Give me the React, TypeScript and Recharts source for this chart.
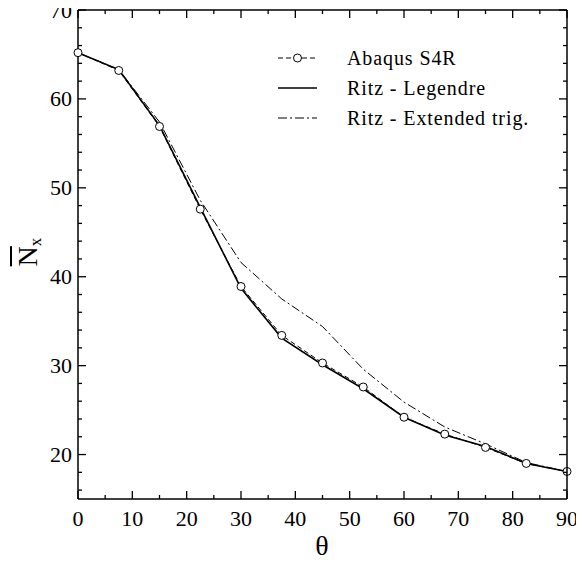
import React from "react";
import { LineChart, Line, XAxis, YAxis } from "recharts";

const theta = [0, 7.5, 15, 22.5, 30, 37.5, 45, 52.5, 60, 67.5, 75, 82.5, 90];
const abaqusS4R = [65.2, 63.2, 56.9, 47.6, 38.9, 33.4, 30.3, 27.6, 24.2, 22.3, 20.8, 19.0, 18.1];
const ritzLegendre = [65.2, 63.3, 57.0, 47.8, 38.7, 33.1, 30.1, 27.4, 24.2, 22.2, 20.9, 19.0, 18.1];
const ritzExtTrig = [65.2, 63.3, 57.4, 48.6, 41.6, 37.5, 34.4, 29.6, 25.9, 23.1, 21.2, 19.1, 18.1];

const xTicks = [0, 5, 10, 15, 20, 25, 30, 35, 40, 45, 50, 55, 60, 65, 70, 75, 80, 85, 90];
const yTicks = [16, 18, 20, 22, 24, 26, 28, 30, 32, 34, 36, 38, 40, 42, 44, 46, 48, 50, 52, 54, 56, 58, 60, 62, 64, 66, 68, 70];

const seriesNames = ["Abaqus S4R", "Ritz - Legendre", "Ritz - Extended trig."];
const xTitle = "θ";

const data = theta.map((t, i) => ({
  theta: t,
  abaqus: abaqusS4R[i],
  legendre: ritzLegendre[i],
  trig: ritzExtTrig[i],
}));

const FONT = "'Liberation Serif', 'Times New Roman', serif";
const MAJ = 8;
const MIN = 4;
const X_MIN = 0;
const X_MAX = 90;
const Y_MIN = 15;
const Y_MAX = 70;

const CHART_W = 566;
const CHART_H = 547;
const MARGIN = { top: 2, right: 7, bottom: 0, left: 0 };
const PLOT_TOP = MARGIN.top;
const PLOT_RIGHT = CHART_W - MARGIN.right;

const BottomTick = (p: any) => {
  const v = p.payload.value;
  const major = v % 10 === 0;
  const len = major ? MAJ : MIN;
  return (
    <g>
      <line x1={p.x} y1={p.y} x2={p.x} y2={p.y - len} stroke="#000" strokeWidth={1.3} />
      <line x1={p.x} y1={PLOT_TOP} x2={p.x} y2={PLOT_TOP + len} stroke="#000" strokeWidth={1.3} />
      {v === X_MAX && <line x1={p.x} y1={p.y} x2={p.x} y2={PLOT_TOP} stroke="#000" strokeWidth={1.5} />}
      {major && (
        <text x={p.x} y={p.y + 27} textAnchor="middle" fontFamily={FONT} fontSize={22} fill="#000">
          {v}
        </text>
      )}
    </g>
  );
};

const LeftTick = (p: any) => {
  const v = p.payload.value;
  const major = v % 10 === 0;
  const len = major ? MAJ : MIN;
  return (
    <g>
      <line x1={p.x} y1={p.y} x2={p.x + len} y2={p.y} stroke="#000" strokeWidth={1.3} />
      <line x1={PLOT_RIGHT} y1={p.y} x2={PLOT_RIGHT - len} y2={p.y} stroke="#000" strokeWidth={1.3} />
      {v === Y_MAX && <line x1={p.x} y1={p.y} x2={PLOT_RIGHT} y2={p.y} stroke="#000" strokeWidth={1.5} />}
      {major && (
        <text x={p.x - 6} y={p.y + 7.5} textAnchor="end" fontFamily={FONT} fontSize={22} fill="#000">
          {v}
        </text>
      )}
    </g>
  );
};

const legendRows = [
  { name: seriesNames[0], dash: "5 3", circle: true, w: 1 },
  { name: seriesNames[1], dash: undefined, circle: false, w: 1.6 },
  { name: seriesNames[2], dash: "9 3 2 3", circle: false, w: 1 },
];

export default function App() {
  return (
    <div style={{ position: "relative", width: CHART_W, height: CHART_H }}>
      <style>{".recharts-surface{overflow:visible}"}</style>
      <LineChart width={CHART_W} height={CHART_H} data={data} margin={MARGIN}>
        <XAxis
          dataKey="theta"
          type="number"
          domain={[X_MIN, X_MAX]}
          ticks={xTicks}
          interval={0}
          height={56}
          tickSize={0}
          tickMargin={0}
          tickLine={false}
          tick={<BottomTick />}
          axisLine={{ stroke: "#000", strokeWidth: 1.5 }}
        />
        <YAxis
          type="number"
          domain={[Y_MIN, Y_MAX]}
          ticks={yTicks}
          interval={0}
          width={70}
          tickSize={0}
          tickMargin={0}
          tickLine={false}
          tick={<LeftTick />}
          axisLine={{ stroke: "#000", strokeWidth: 1.5 }}
        />
        <Line
          dataKey="trig"
          type="linear"
          stroke="#000"
          strokeWidth={1}
          strokeDasharray="9 3 2 3"
          dot={false}
          isAnimationActive={false}
        />
        <Line
          dataKey="legendre"
          type="linear"
          stroke="#000"
          strokeWidth={1.6}
          dot={false}
          isAnimationActive={false}
        />
        <Line
          dataKey="abaqus"
          type="linear"
          stroke="#000"
          strokeWidth={1}
          strokeDasharray="5 3"
          dot={{ r: 4, fill: "#fff", stroke: "#000", strokeWidth: 1, strokeDasharray: "" }}
          isAnimationActive={false}
        />
      </LineChart>

      {/* legend */}
      <div style={{ position: "absolute", top: 35, left: 270, fontFamily: FONT, fontSize: 20, color: "#000" }}>
        {legendRows.map((r) => (
          <div key={r.name} style={{ display: "flex", alignItems: "center", height: 30 }}>
            <svg width={69} height={30} style={{ display: "block" }}>
              <line x1={0} y1={15} x2={39} y2={15} stroke="#000" strokeWidth={r.w} strokeDasharray={r.dash} />
              {r.circle && <circle cx={19.5} cy={15} r={4} fill="#fff" stroke="#000" strokeWidth={1} />}
            </svg>
            <span style={{ whiteSpace: "nowrap", letterSpacing: 0.9 }}>{r.name}</span>
          </div>
        ))}
      </div>

      {/* x title */}
      <div
        style={{
          position: "absolute",
          top: 522,
          left: 264,
          width: 100,
          textAlign: "center",
          fontFamily: FONT,
          fontSize: 28,
          lineHeight: "32px",
          color: "#000",
        }}
      >
        {xTitle}
      </div>

      {/* y title */}
      <div
        style={{
          position: "absolute",
          top: 227,
          left: -30,
          width: 100,
          height: 34,
          textAlign: "center",
          fontFamily: FONT,
          fontSize: 28,
          lineHeight: "34px",
          color: "#000",
          transform: "rotate(-90deg)",
          whiteSpace: "nowrap",
        }}
      >
        <span style={{ textDecoration: "overline" }}>N</span>
        <span style={{ fontSize: 17, position: "relative", top: 4 }}>x</span>
      </div>
    </div>
  );
}
